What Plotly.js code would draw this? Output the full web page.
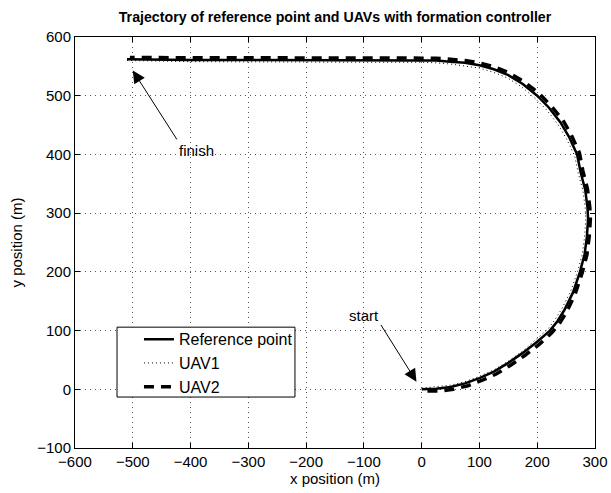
<!DOCTYPE html>
<html>
<head>
<meta charset="utf-8">
<script src="https://cdn.plot.ly/plotly-3.0.1.min.js"></script>
<style>html,body{margin:0;padding:0;background:#fff;}#chart{width:611px;height:493px;}</style>
</head>
<body>
<div id="chart"></div>
<script>
// Reference point trajectory (m)
var refX = [0, 25, 50, 75, 100, 125, 150, 175, 200, 222, 235, 247, 262, 274, 282, 286, 288, 287, 283, 275, 269, 255, 240, 220, 200, 175, 150, 125, 100, 75, 50, 25, 0, -100, -200, -300, -400, -510];
var refY = [0, 1, 4, 10, 19, 30, 45, 62, 81, 100, 116, 135, 165, 200, 230, 260, 290, 310, 340, 370, 400, 430, 455, 480, 500, 520, 535, 545, 552, 556, 558, 560, 560, 560, 560, 561, 561, 562];
// UAV1 trajectory (m)
var uav1X = [0, 25, 50, 75, 100, 125, 150, 175, 197, 219, 231, 243, 258, 270, 278, 282, 284, 283, 279, 271, 265, 251, 236, 217, 197, 173, 149, 124, 100, 75, 50, 25, 0, -100, -200, -300, -400, -512];
var uav1Y = [2, 4, 7, 13, 22, 33, 48, 65, 84, 103, 119, 138, 167, 201, 230, 260, 290, 310, 339, 368, 397, 426, 451, 475, 495, 515, 530, 540, 547, 551, 554, 556, 557, 557, 557, 558, 558, 560];
// UAV2 trajectory (m)
var uav2X = [10, 30, 55, 80, 104, 129, 154, 179, 204, 226, 239, 251, 266, 278, 286, 290, 292, 291, 287, 279, 273, 259, 244, 223, 203, 177, 151, 126, 100, 75, 50, 25, 0, -100, -200, -300, -400, -505];
var uav2Y = [-3, -3, 0, 6, 15, 26, 41, 58, 77, 97, 113, 132, 163, 199, 229, 260, 290, 310, 341, 372, 403, 433, 459, 484, 504, 524, 539, 549, 556, 560, 562, 564, 564, 564, 564, 565, 565, 565];

var seriesNames = ['Reference point', 'UAV1', 'UAV2'];
var xTicks = [-600, -500, -400, -300, -200, -100, 0, 100, 200, 300];
var yTicks = [-100, 0, 100, 200, 300, 400, 500, 600];

var FONT = 'Liberation Sans, Arial, Helvetica, sans-serif';

var traces = [
  {x: refX, y: refY, name: seriesNames[0], type: 'scatter', mode: 'lines',
   line: {color: '#000', width: 2.5}},
  {x: uav1X, y: uav1Y, name: seriesNames[1], type: 'scatter', mode: 'lines',
   line: {color: '#000', width: 1, dash: '1px,3px'}},
  {x: uav2X, y: uav2Y, name: seriesNames[2], type: 'scatter', mode: 'lines',
   line: {color: '#000', width: 3.5, dash: '10px,7px'}}
];

function fmt(v) { return v < 0 ? '\u2212' + (-v) : String(v); }

var axisCommon = {
  showline: true, linecolor: '#000', linewidth: 1, mirror: 'ticks',
  ticks: 'inside', ticklen: 5, tickcolor: '#000', tickwidth: 1,
  showgrid: true, gridcolor: '#555', gridwidth: 1, griddash: '1px,4px',
  zeroline: false, tickfont: {family: FONT, size: 15, color: '#000'}
};

var layout = {
  width: 611, height: 493,
  margin: {l: 75, r: 16, t: 37, b: 45},
  paper_bgcolor: '#fff', plot_bgcolor: '#fff',
  font: {family: FONT, size: 15, color: '#000'},
  title: {text: '<b>Trajectory of reference point and UAVs with formation controller</b>',
          font: {family: FONT, size: 14.2, color: '#000'},
          x: 0.5, xref: 'paper', y: 1 - 17/493, yref: 'container', yanchor: 'middle'},
  xaxis: Object.assign({}, axisCommon, {
    range: [-600, 300], tickvals: xTicks, ticktext: xTicks.map(fmt),
    title: {text: 'x position (m)', font: {family: FONT, size: 15, color: '#000'}, standoff: 2}
  }),
  yaxis: Object.assign({}, axisCommon, {
    range: [-100, 600], tickvals: yTicks, ticktext: yTicks.map(fmt),
    title: {text: 'y position (m)', font: {family: FONT, size: 15, color: '#000'}, standoff: 10}
  }),
  showlegend: true,
  legend: {x: 0.123, y: 0.306, xanchor: 'left', yanchor: 'top',
           bgcolor: 'rgba(0,0,0,0)', borderwidth: 0,
           font: {family: FONT, size: 16, color: '#000'}},
  shapes: [
    {type: 'rect', xref: 'paper', yref: 'paper', x0: 0.0808, x1: 0.423, y0: 0.124, y1: 0.294,
     fillcolor: '#fff', line: {color: '#000', width: 1}, layer: 'above'}
  ],
  annotations: [
    {x: -500, y: 543, ax: -422, ay: 423, xref: 'x', yref: 'y', axref: 'x', ayref: 'y',
     text: '', showarrow: true, arrowhead: 2, arrowsize: 2.5, arrowwidth: 1, arrowcolor: '#000', standoff: 0},
    {x: -390, y: 407, xref: 'x', yref: 'y', text: 'finish', showarrow: false,
     font: {family: FONT, size: 15, color: '#000'}},
    {x: -9, y: 13, ax: -72, ay: 112, xref: 'x', yref: 'y', axref: 'x', ayref: 'y',
     text: '', showarrow: true, arrowhead: 2, arrowsize: 2.5, arrowwidth: 1, arrowcolor: '#000', standoff: 0},
    {x: -99, y: 125, xref: 'x', yref: 'y', text: 'start', showarrow: false,
     font: {family: FONT, size: 15, color: '#000'}}
  ]
};

Plotly.newPlot('chart', traces, layout, {displayModeBar: false, staticPlot: true});
</script>
</body>
</html>
